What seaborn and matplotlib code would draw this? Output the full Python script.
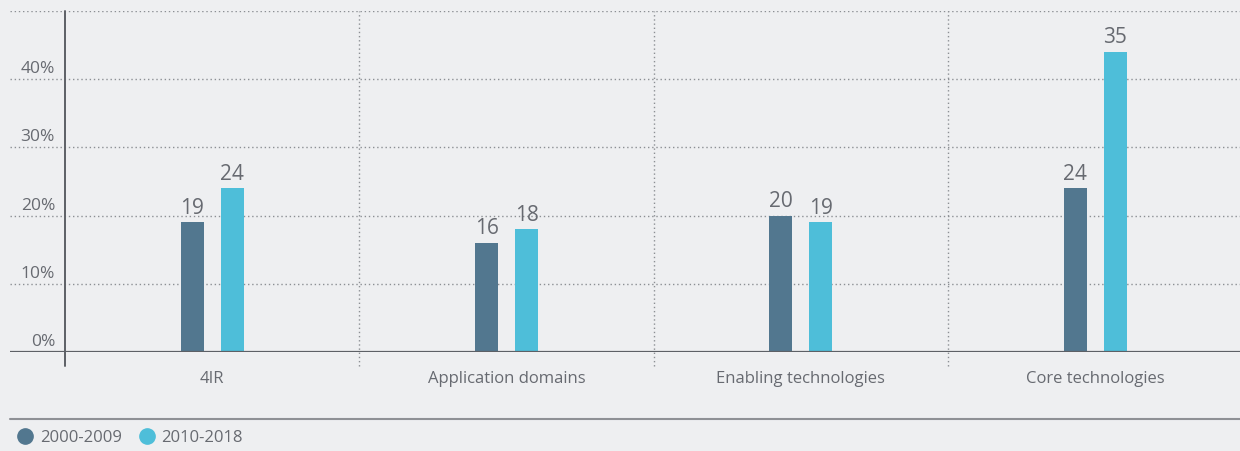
import pandas as pd
import matplotlib.pyplot as plt
import matplotlib.transforms as mtransforms
from matplotlib.lines import Line2D
import seaborn as sns


categories = ["4IR", "Application domains", "Enabling technologies", "Core technologies"]
periods = ["2000-2009", "2010-2018"]
# bar heights as drawn (percent) and the numbers printed above them
heights_2000 = [19, 16, 20, 24]
heights_2010 = [24, 18, 19, 44]
labels_2000 = ["19", "16", "20", "24"]
labels_2010 = ["24", "18", "19", "35"]
y_ticks = [0, 10, 20, 30, 40, 50]

BG = "#eeeff1"
TEXT = "#676a71"
COLORS = ["#52778f", "#4ebed9"]


def build_frame():

    rows = []
    for cat, a, b in zip(categories, heights_2000, heights_2010):
        rows.append({"category": cat, "period": periods[0], "value": a})
        rows.append({"category": cat, "period": periods[1], "value": b})

    return pd.DataFrame(rows)


def draw():

    df = build_frame()

    sns.set_theme(style="white")
    plt.rcParams["font.family"] = ["Open Sans", "DejaVu Sans"]

    fig = plt.figure(figsize=(12.4, 4.51), dpi=100, facecolor=BG)
    ax = fig.add_axes([10 / 1240, 1 - 352 / 451, 1230 / 1240, 341 / 451])
    ax.set_facecolor(BG)

    sns.barplot(data=df, x="category", y="value", hue="period",
                order=categories, hue_order=periods, palette=COLORS,
                width=0.272, gap=0.43, saturation=1, ax=ax, legend=False,
                linewidth=0, edgecolor="none", zorder=3)

    ax.set_ylim(0, 50)
    ax.set_xlim(-0.687, 3.492)
    for s in ax.spines.values():
        s.set_visible(False)
    ax.set_xlabel("")
    ax.set_ylabel("")
    ax.set_xticks([])
    ax.set_yticks([])

    # dotted horizontal grid
    for t in y_ticks[1:]:
        ax.axhline(t, color="#8c8f94", lw=1, ls=(0, (1, 2)), zorder=1)
    ax.axhline(0, color="#5d6066", lw=1.6, zorder=4)

    # y labels sit above the gridlines, left of the axis line
    trans = mtransforms.offset_copy(ax.transData, fig=fig, x=0, y=6, units="dots")
    for t in y_ticks[:-1]:
        ax.text(-0.534, t, f"{t}%", ha="right", va="baseline",
                fontsize=12.5, color=TEXT, transform=trans)

    # axis line and category separators reach below the baseline
    low = -14 / 6.82
    ax.plot([-0.5, -0.5], [low, 50], color="#5d6066", lw=1.4,
            clip_on=False, zorder=4)
    for b in [0.5, 1.5, 2.5]:
        ax.plot([b, b], [low, 50], color="#8c8f94", lw=1,
                ls=(0, (1, 2)), clip_on=False, zorder=1)

    for i, cat in enumerate(categories):
        ax.text(i, -27 / 6.82, cat, ha="center", va="center",
                fontsize=12, color=TEXT, clip_on=False)

    for cont, labs in zip(ax.containers, [labels_2000, labels_2010]):
        ax.bar_label(cont, labels=labs, padding=2.5, fontsize=15, color=TEXT)

    # separator and legend below the chart
    fig.add_artist(Line2D([10 / 1240, 1], [1 - 419 / 451] * 2,
                          color="#8e9095", lw=1.5))
    handles = [Line2D([], [], marker="o", ls="", markersize=11,
                      color=c) for c in COLORS]
    fig.legend(handles, periods, loc="center left",
               bbox_to_anchor=(0.0145, 1 - 438 / 451), ncol=2, frameon=False,
               handlelength=0.9, handletextpad=0.4, columnspacing=1.1,
               fontsize=12, labelcolor=TEXT, borderpad=0, borderaxespad=0)

    fig.savefig("out.png", dpi=100, facecolor=BG)
    plt.close(fig)


if __name__ == "__main__":
    draw()
